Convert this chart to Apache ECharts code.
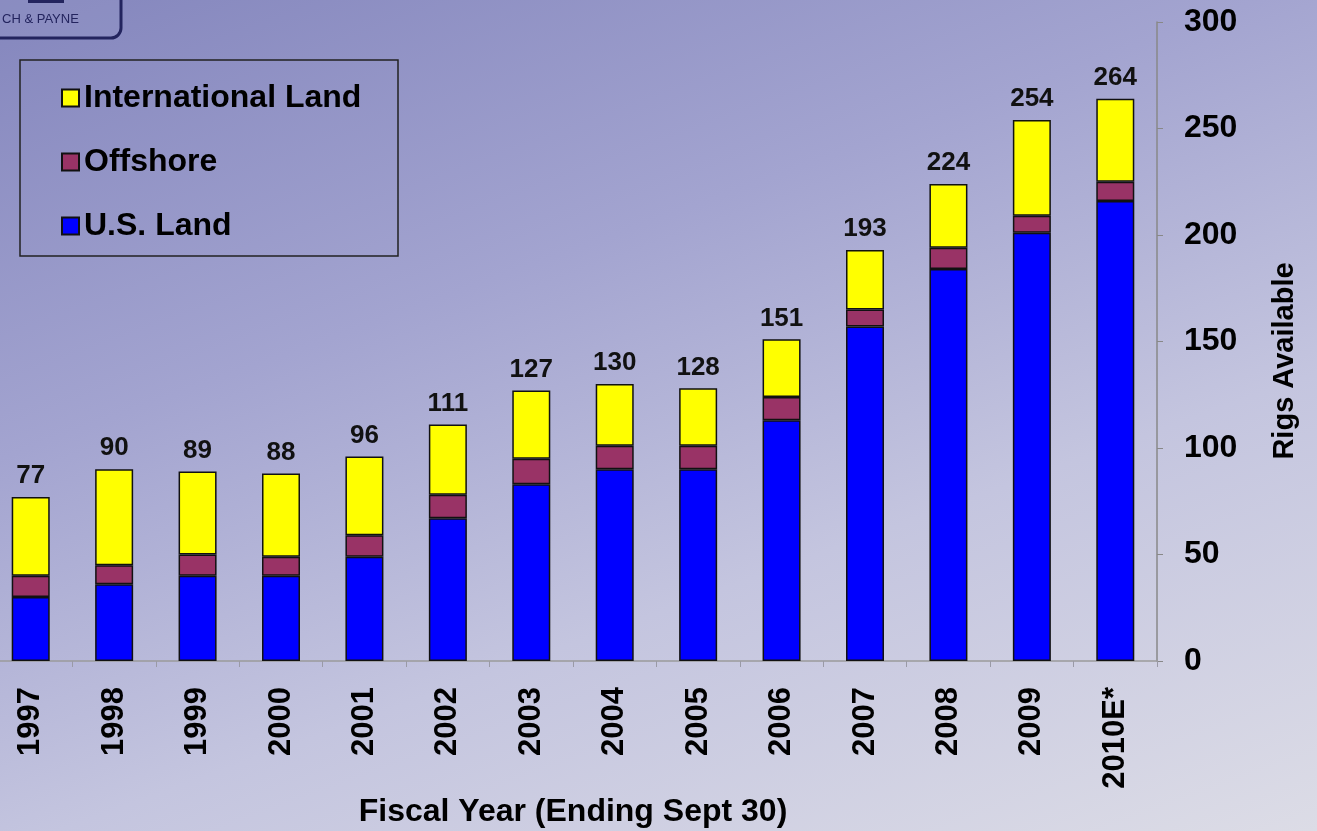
<!DOCTYPE html>
<html>
<head>
<meta charset="utf-8">
<script src="https://cdn.jsdelivr.net/npm/echarts@6/dist/echarts.min.js"></script>
<style>
html,body{margin:0;padding:0;width:1317px;height:831px;overflow:hidden;position:relative;}
body{background:linear-gradient(160deg,#8486bd 0%,#a3a4d0 35%,#c4c5df 65%,#dcdce6 100%);}
#c{position:absolute;left:-20px;top:0;width:1337px;height:831px;}
</style>
</head>
<body>
<div id="c"></div>
<script>
const categories = ['1997','1998','1999','2000','2001','2002','2003','2004','2005','2006','2007','2008','2009','2010E*'];
const usLand   = [30, 36, 40, 40, 49, 67, 83, 90, 90, 113, 157, 184, 201, 216];
const offshore = [10,  9, 10,  9, 10, 11, 12, 11, 11,  11,   8,  10,   8,   9];
const intlLand = [37, 45, 39, 39, 37, 33, 32, 29, 27,  27,  28,  30,  45,  39];
const totals   = [77, 90, 89, 88, 96, 111, 127, 130, 128, 151, 193, 224, 254, 264];
const yTicks = [0, 50, 100, 150, 200, 250, 300];

const font = 'Liberation Sans, Arial, Helvetica, sans-serif';
const OX = 20; // container shifted left by this many px
const chart = echarts.init(document.getElementById('c'), null, {renderer: 'canvas'});
const border = {borderColor: '#111', borderWidth: 1.5};

chart.setOption({
  backgroundColor: 'transparent',
  animation: false,
  textStyle: {fontFamily: font},
  graphic: [
    {type: 'rect', shape: {x: OX - 20, y: -20, width: 141, height: 58, r: 10},
     style: {fill: 'rgba(150,152,200,0.35)', stroke: '#23245e', lineWidth: 3}},
    {type: 'rect', shape: {x: OX + 28, y: -4, width: 36, height: 7},
     style: {fill: '#23245e'}},
    {type: 'text', x: OX + 2, y: 13, style: {text: 'CH & PAYNE', fill: '#23245e', font: '13px ' + font}},
    {type: 'rect', shape: {x: OX + 20, y: 60, width: 378, height: 196},
     style: {fill: 'none', stroke: '#222', lineWidth: 1.5}, z: 10},
    {type: 'text', x: OX + 1285, y: 361, rotation: Math.PI / 2,
     style: {text: 'Rigs Available', fill: '#000', font: 'bold 29px ' + font, align: 'center', verticalAlign: 'middle'}}
  ],
  legend: {
    orient: 'vertical',
    left: OX + 56, top: 77,
    itemWidth: 17, itemHeight: 17,
    itemGap: 32,
    itemTextGap: 9,
    icon: 'rect',
    data: ['International Land', 'Offshore', 'U.S. Land'],
    textStyle: {fontSize: 32, fontWeight: 'bold', color: '#000', fontFamily: font}
  },
  grid: {left: OX - 11, top: 22, width: 1168, height: 639, containLabel: false, outerBoundsMode: 'none'},
  xAxis: {
    type: 'category',
    data: categories,
    name: 'Fiscal Year (Ending Sept 30)',
    nameLocation: 'middle',
    nameGap: 132,
    nameTextStyle: {fontSize: 32, fontWeight: 'bold', color: '#000'},
    axisLine: {lineStyle: {color: '#9a9a9a', width: 1.5}},
    axisTick: {show: true, alignWithLabel: false, length: 6, lineStyle: {color: '#9a9aa6'}},
    axisLabel: {rotate: 90, margin: 26, fontSize: 31, fontWeight: 'bold', color: '#000'}
  },
  yAxis: {
    type: 'value',
    position: 'right',
    min: 0, max: 300, interval: 50,
    axisLine: {show: true, lineStyle: {color: '#888', width: 1.5}},
    axisTick: {show: true, length: 6, inside: false, lineStyle: {color: '#888'}},
    splitLine: {show: false},
    axisLabel: {margin: 27, fontSize: 32, fontWeight: 'bold', color: '#000',
      formatter: v => yTicks.includes(v) ? String(v) : ''}
  },
  series: [
    {name: 'U.S. Land', type: 'bar', stack: 'rigs', barWidth: 38, data: usLand,
     itemStyle: Object.assign({color: '#0000ff'}, border)},
    {name: 'Offshore', type: 'bar', stack: 'rigs', barWidth: 38, data: offshore,
     itemStyle: Object.assign({color: '#993366'}, border)},
    {name: 'International Land', type: 'bar', stack: 'rigs', barWidth: 38, data: intlLand,
     itemStyle: Object.assign({color: '#ffff00'}, border),
     label: {show: true, position: 'top', distance: 8, fontSize: 26, fontWeight: 'bold', color: '#111',
       formatter: p => String(totals[p.dataIndex])}}
  ]
});
</script>
</body>
</html>
